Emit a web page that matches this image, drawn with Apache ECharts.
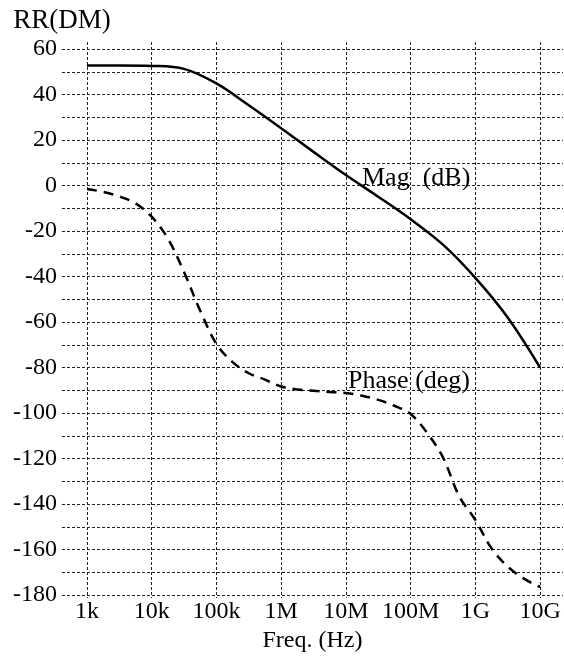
<!DOCTYPE html>
<html>
<head>
<meta charset="utf-8">
<script src="https://cdn.jsdelivr.net/npm/echarts@6/dist/echarts.min.js"></script>
<style>
  html, body { margin: 0; padding: 0; background: #fff; }
  #chart { width: 564px; height: 662px; }
</style>
</head>
<body>
<div id="chart"></div>
<script>
// Frequencies (Hz) and values
const magFreq = [1e3, 3.16e3, 1e4, 3.16e4, 1e5, 3.16e5, 1e6, 3.16e6, 1e7, 3.16e7, 1e8, 3.16e8, 1e9, 3.16e9, 1e10];
const magDb   = [52.8, 52.8, 52.6, 51.3, 44.9, 35.3, 25.2, 14.8, 4.6, -4.9, -14.8, -26.0, -40.6, -58.0, -80.0];

const phaseFreq = [1e3, 1.78e3, 3.16e3, 5.62e3, 1e4, 1.78e4, 3.16e4, 5.62e4, 1e5, 1.78e5, 3.16e5, 5.62e5,
                   1e6, 1.78e6, 3.16e6, 5.62e6, 1e7, 1.78e7, 3.16e7, 5.62e7, 1e8, 1.78e8, 3.16e8, 5.62e8,
                   1e9, 1.78e9, 3.16e9, 5.62e9, 1e10];
const phaseDeg  = [-1.5, -2.8, -4.8, -7.8, -13.7, -23.3, -38.0, -55.0, -69.6, -77.6, -82.5, -85.3,
                   -88.3, -89.6, -90.2, -90.7, -91.2, -92.4, -94.2, -96.8, -100.4, -108.5, -119.5, -136.5,
                   -147.0, -159.5, -167.5, -172.8, -176.5];

const xTickValues = [1e3, 1e4, 1e5, 1e6, 1e7, 1e8, 1e9, 1e10];
const xTickLabels = ['1k', '10k', '100k', '1M', '10M', '100M', '1G', '10G'];
const yGridValues = [-180, -170, -160, -150, -140, -130, -120, -110, -100, -90, -80, -70, -60, -50, -40, -30, -20, -10, 0, 10, 20, 30, 40, 50, 60];
const yLabelValues = [-180, -160, -140, -120, -100, -80, -60, -40, -20, 0, 20, 40, 60];

const yTitle = 'RR(DM)';
const xTitle = 'Freq. (Hz)';
const magLabel = 'Mag  (dB)';
const phaseLabel = 'Phase (deg)';

const FONT = 'Liberation Serif';
const gridLine = { color: '#222', width: 1, type: [3, 2] };

const chart = echarts.init(document.getElementById('chart'), null, { renderer: 'canvas' });
chart.setOption({
  animation: false,
  backgroundColor: '#fff',
  grid: { left: 62, right: 1, top: 42, bottom: 64, containLabel: false },
  xAxis: {
    type: 'log',
    logBase: 10,
    min: 412,
    max: 2.26e10,
    axisLine: { show: false },
    axisTick: { show: false, customValues: xTickValues },
    axisLabel: {
      customValues: xTickValues,
      margin: 2,
      color: '#000',
      fontFamily: FONT,
      fontSize: 24,
      formatter: function (v) {
        const i = xTickValues.findIndex(t => Math.abs(Math.log10(t) - Math.log10(v)) < 1e-6);
        return i >= 0 ? xTickLabels[i] : '';
      }
    },
    splitLine: { show: true, lineStyle: gridLine },
    minorSplitLine: { show: false },
    name: xTitle,
    nameLocation: 'middle',
    nameGap: 25,
    nameTextStyle: { color: '#000', fontFamily: FONT, fontSize: 24 }
  },
  yAxis: {
    type: 'value',
    min: -181.3,
    max: 63.1,
    axisLine: { show: false },
    axisTick: { show: false, customValues: yGridValues },
    axisLabel: {
      customValues: yLabelValues,
      margin: 5,
      color: '#000',
      fontFamily: FONT,
      fontSize: 24
    },
    splitLine: { show: true, lineStyle: gridLine },
    name: yTitle,
    nameLocation: 'end',
    nameGap: 8,
    nameTextStyle: { color: '#000', fontFamily: FONT, fontSize: 27, align: 'center', verticalAlign: 'bottom' }
  },
  series: [
    {
      name: 'Mag',
      type: 'line',
      data: magFreq.map((f, i) => [f, magDb[i]]),
      showSymbol: false,
      smooth: 0.35,
      lineStyle: { color: '#000', width: 2.5, type: 'solid' },
      z: 5
    },
    {
      name: 'Phase',
      type: 'line',
      data: phaseFreq.map((f, i) => [f, phaseDeg[i]]),
      showSymbol: false,
      smooth: 0.35,
      lineStyle: { color: '#000', width: 2.5, type: [10, 7] },
      z: 5
    }
  ],
  graphic: [
    { type: 'text', x: 362, y: 178, z: 10,
      style: { text: magLabel, fill: '#000', font: '26px "Liberation Serif"', textVerticalAlign: 'middle', textAlign: 'left' } },
    { type: 'text', x: 348, y: 381, z: 10,
      style: { text: phaseLabel, fill: '#000', font: '26px "Liberation Serif"', textVerticalAlign: 'middle', textAlign: 'left' } }
  ]
});
</script>
</body>
</html>
